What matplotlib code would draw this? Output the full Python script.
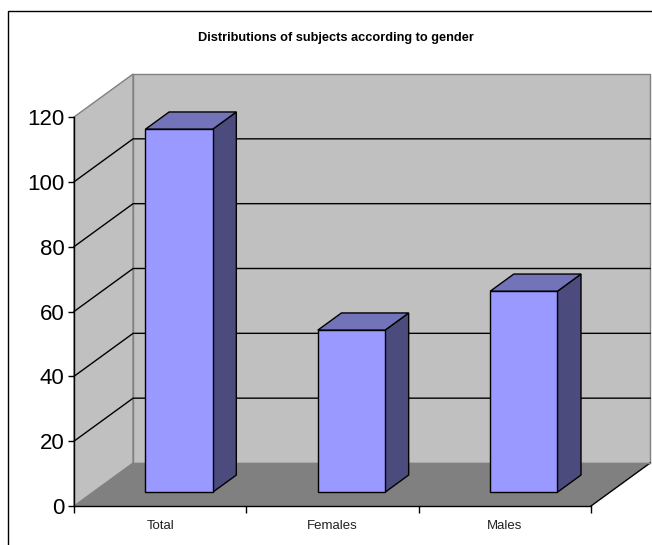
import numpy as np
import matplotlib.pyplot as plt
from matplotlib.patches import Polygon, Rectangle

# dane
categories = ['Total', 'Females', 'Males']
counts = [112, 50, 62]
y_ticks = [0, 20, 40, 60, 80, 100, 120]
title = "Distributions of subjects according to gender"

plt.rcParams['font.family'] = ['Liberation Sans', 'DejaVu Sans']

fig = plt.figure(figsize=(6.52, 5.45), dpi=100)
fig.patch.set_facecolor('white')

# os w plaszczyznie przedniej (x: 74-591 px, y: 506-117 px)
ax = fig.add_axes([74 / 652, 39 / 545, 517 / 652, 389 / 545])
ax.set_xlim(0, 3)
ax.set_ylim(0, 120)
ax.patch.set_visible(False)

# glebokosc 3D w jednostkach danych
DX = 59 / 172
DY = 43 * 120 / 389
ymax = y_ticks[-1]
ncat = len(categories)

wall = '#C0C0C0'
floor = '#808080'
edge_gray = '#808080'

# sciana boczna
ax.add_patch(Polygon([(0, 0), (DX, DY), (DX, ymax + DY), (0, ymax)],
                     closed=True, facecolor=wall, edgecolor=edge_gray, lw=1,
                     clip_on=False, zorder=0))
# sciana tylna
ax.add_patch(Rectangle((DX, DY), ncat, ymax, facecolor=wall,
                       edgecolor=edge_gray, lw=1, clip_on=False, zorder=0))

# linie siatki
for v in y_ticks[1:-1]:
    ax.plot([0, DX, ncat + DX], [v, v + DY, v + DY], color='black', lw=1,
            clip_on=False, zorder=1)

# podloga
ax.add_patch(Polygon([(0, 0), (ncat, 0), (ncat + DX, DY), (DX, DY)],
                     closed=True, facecolor=floor, edgecolor='none',
                     clip_on=False, zorder=2))
ax.plot([ncat, ncat + DX], [0, DY], color='black', lw=1, clip_on=False, zorder=2)
ax.plot([DX, ncat + DX], [DY, DY], color=edge_gray, lw=1, clip_on=False, zorder=2)

# slupki 3D
f0, f1 = 0.32, 0.72
bw = 0.39
front_c = '#9999FF'
top_c = '#7373B9'
side_c = '#4B4B7D'
for i, v in enumerate(counts):
    x0 = i + 0.5 - bw / 2 + f0 * DX
    x1 = x0 + bw
    y0 = f0 * DY
    ddx = (f1 - f0) * DX
    ddy = (f1 - f0) * DY
    ax.add_patch(Polygon([(x1, y0), (x1 + ddx, y0 + ddy), (x1 + ddx, y0 + v + ddy), (x1, y0 + v)],
                         closed=True, facecolor=side_c, edgecolor='black', lw=1,
                         clip_on=False, zorder=3))
    ax.add_patch(Polygon([(x0, y0 + v), (x1, y0 + v), (x1 + ddx, y0 + v + ddy), (x0 + ddx, y0 + v + ddy)],
                         closed=True, facecolor=top_c, edgecolor='black', lw=1,
                         clip_on=False, zorder=3))
    ax.add_patch(Rectangle((x0, y0), bw, v, facecolor=front_c, edgecolor='black',
                           lw=1, clip_on=False, zorder=4))

# osie
for s in ['top', 'right']:
    ax.spines[s].set_visible(False)
for s in ['left', 'bottom']:
    ax.spines[s].set_color('black')
    ax.spines[s].set_linewidth(1)
    ax.spines[s].set_zorder(5)

ax.set_yticks(y_ticks)
ax.tick_params(axis='y', length=4, width=1, pad=3, labelsize=16)
ax.set_xticks(np.arange(ncat + 1))
ax.set_xticklabels([])
ax.set_xticks(np.arange(ncat) + 0.5, minor=True)
ax.set_xticklabels(categories, minor=True)
ax.tick_params(axis='x', which='major', length=5, width=1)
ax.tick_params(axis='x', which='minor', length=0, pad=10, labelsize=9.5,
               labelcolor='#222222')

fig.text(336 / 652, 1 - 38 / 545, title, ha='center', va='center',
         fontsize=9.2, fontweight='bold')

# ramka wykresu
fig.add_artist(Rectangle((8 / 652, -0.1), 1.2, 1.1 - 11 / 545, transform=fig.transFigure,
                         facecolor='none', edgecolor='black', lw=1))

fig.savefig('out.png', dpi=100)
